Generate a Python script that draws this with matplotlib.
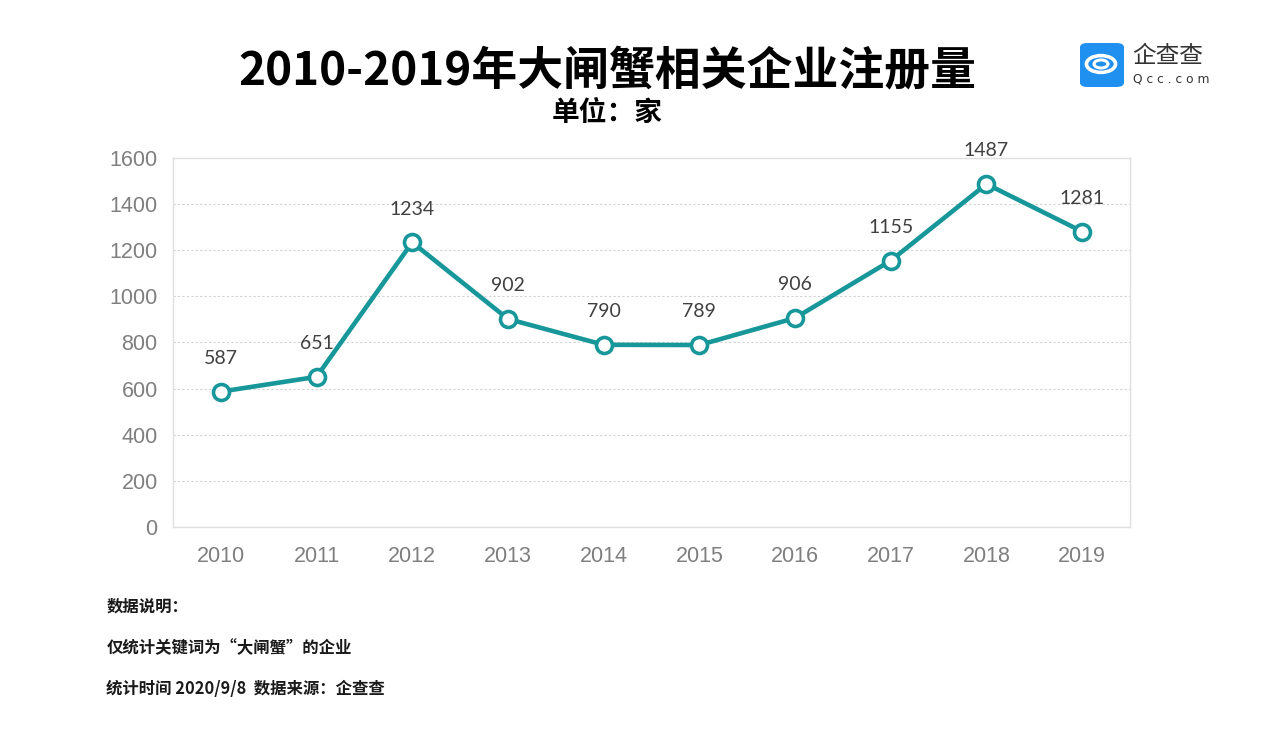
import matplotlib
matplotlib.use("Agg")
import matplotlib.pyplot as plt
from matplotlib.patches import FancyBboxPatch, Circle

plt.rcParams['font.family'] = ['Noto Sans CJK SC', 'DejaVu Sans']

# data
years = ['2010', '2011', '2012', '2013', '2014', '2015', '2016', '2017', '2018', '2019']
counts = [587, 651, 1234, 902, 790, 789, 906, 1155, 1487, 1281]
y_ticks = [0, 200, 400, 600, 800, 1000, 1200, 1400, 1600]

title = '2010-2019年大闸蟹相关企业注册量'
subtitle = '单位：家'
notes = ['数据说明：', '仅统计关键词为“大闸蟹”的企业', '统计时间 2020/9/8  数据来源：企查查']

teal = '#17979a'

fig = plt.figure(figsize=(12.67, 7.29), dpi=100)
ax = fig.add_axes([0.1365, 0.2771, 0.7554, 0.5062])

x = list(range(len(years)))
ax.plot(x, counts, color=teal, lw=3.3, marker='o', ms=11.5,
        mfc='white', mec=teal, mew=2.6, zorder=3, solid_capstyle='round')

for xi, v in zip(x, counts):
    ax.annotate(str(v), (xi, v), xytext=(0, 24), textcoords='offset points',
                ha='center', va='center', fontsize=14, color='#404040',
                family=['Lato', 'DejaVu Sans'])

ax.set_xlim(-0.5, len(years) - 0.5)
ax.set_ylim(0, 1600)
ax.set_yticks(y_ticks)
ax.set_xticks(x)
ax.set_xticklabels(years)
for lab in ax.get_xticklabels() + ax.get_yticklabels():
    lab.set_family(['Liberation Sans', 'DejaVu Sans'])
    lab.set_fontsize(15.5)
    lab.set_color('#7f7f7f')
ax.tick_params(axis='both', length=0)
ax.tick_params(axis='y', pad=11)
ax.tick_params(axis='x', pad=14)

for g in y_ticks[1:-1]:
    ax.axhline(g, color='#d2d2d2', lw=0.8, ls=(0, (2, 2)), zorder=1)
for s in ax.spines.values():
    s.set_color('#e0e0e0')
    s.set_linewidth(1.0)

fig.text(0.479, 0.902, title, ha='center', va='center', fontsize=33,
         fontweight='bold', color='black')
fig.text(0.479, 0.845, subtitle, ha='center', va='center', fontsize=20,
         fontweight='bold', color='black')

for i, line in enumerate(notes):
    fig.text(0.084, 1 - (607 + 41 * i) / 729, line, ha='left', va='center',
             fontsize=11.8, fontweight='bold', color='#1a1a1a')

# Qcc logo
logo = FancyBboxPatch((1080 / 1267, 1 - 87 / 729), 44 / 1267, 44 / 729,
                      boxstyle='round,pad=0,rounding_size=0.006',
                      transform=fig.transFigure, fc='#1f8ff0', ec='none')
fig.patches.append(logo)
cx, cy = 1101 / 1267, 1 - 64 / 729
fig.patches.append(Circle((cx, cy), 0.0115, transform=fig.transFigure,
                          fc='none', ec='white', lw=2.6))
fig.patches.append(Circle((cx, cy), 0.0055, transform=fig.transFigure,
                          fc='none', ec='white', lw=2.2))
fig.text(1132 / 1267, 1 - 56 / 729, '企查查', ha='left', va='center',
         fontsize=17, color='#333333')
fig.text(1133 / 1267, 1 - 79 / 729, 'Q c c . c o m', ha='left', va='center',
         fontsize=8.8, color='#333333', family=['DejaVu Sans', 'DejaVu Sans'])

fig.savefig('out.png', dpi=100, facecolor='white')
